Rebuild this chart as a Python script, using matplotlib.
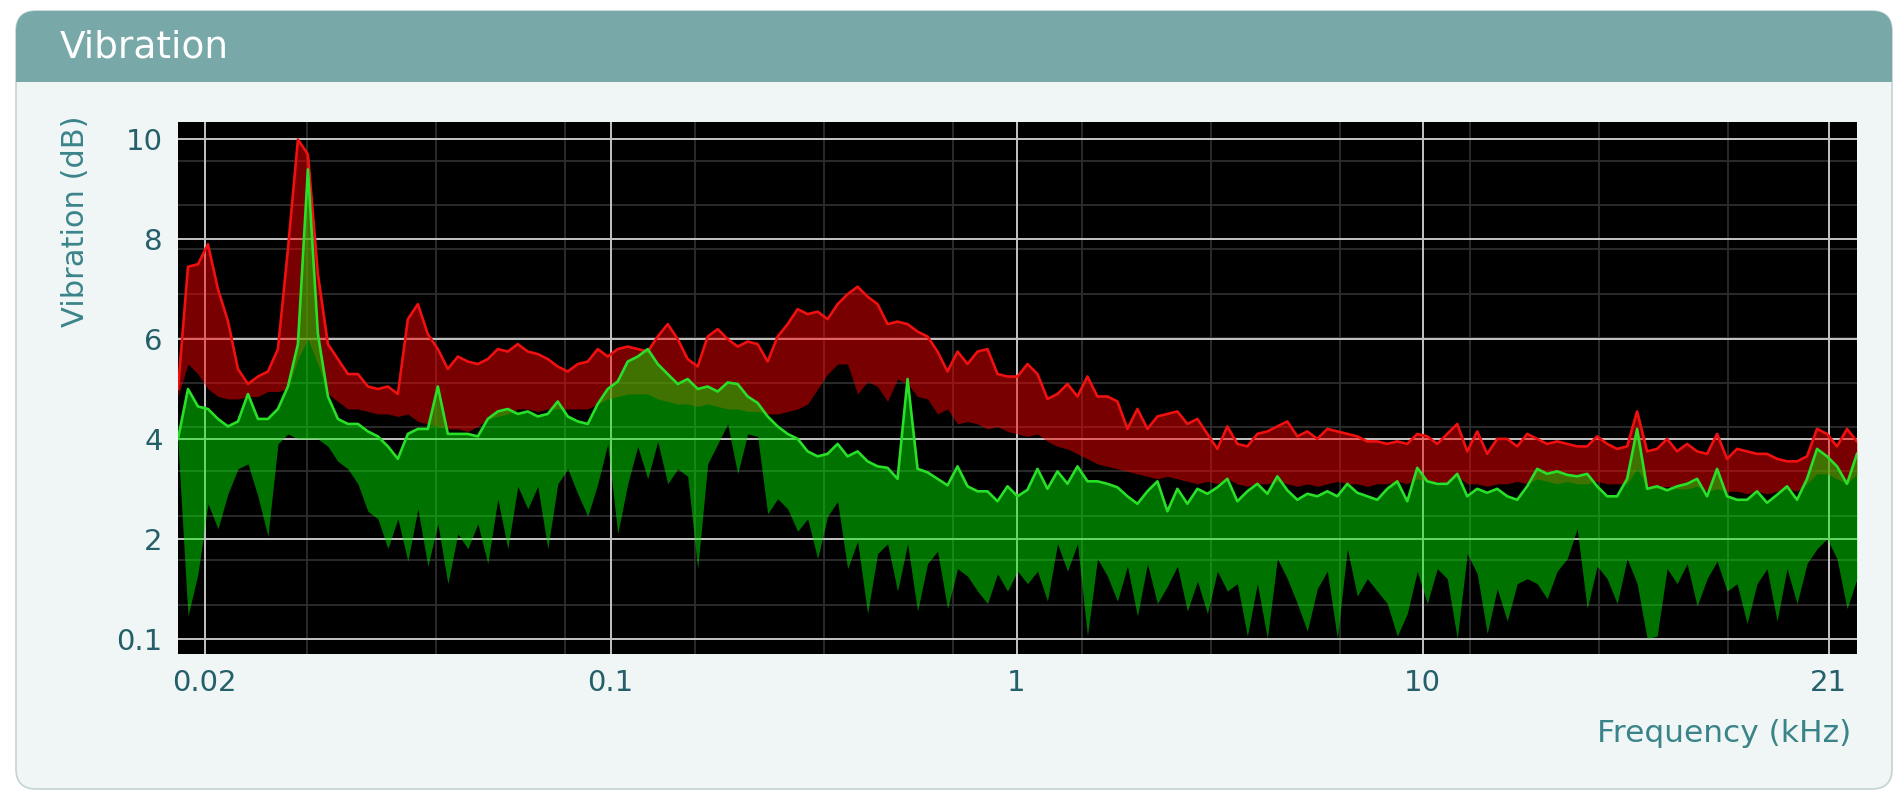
import numpy as np
import matplotlib
matplotlib.use("Agg")
import matplotlib.pyplot as plt
from matplotlib.patches import FancyBboxPatch, Rectangle

# ---------------------------------------------------------------- data
# spectrum bins, evenly spaced along the logarithmic frequency axis
freq = np.geomspace(0.0086, 117.5, 169)

# upper envelope of the reference band (red)
red_max = [
    5.0, 7.45, 7.5, 7.9, 7.0, 6.36, 5.4, 5.1, 5.25, 5.35,
    5.8, 7.8, 10.0, 9.7, 7.3, 5.9, 5.6, 5.3, 5.3, 5.05,
    5.0, 5.05, 4.9, 6.4, 6.7, 6.1, 5.8, 5.4, 5.65, 5.55,
    5.5, 5.6, 5.8, 5.75, 5.9, 5.75, 5.7, 5.6, 5.45, 5.35,
    5.5, 5.55, 5.8, 5.65, 5.8, 5.85, 5.8, 5.75, 6.05, 6.3,
    6.0, 5.6, 5.45, 6.05, 6.2, 6.0, 5.85, 5.95, 5.9, 5.55,
    6.05, 6.3, 6.6, 6.5, 6.55, 6.4, 6.7, 6.9, 7.05, 6.85,
    6.7, 6.3, 6.35, 6.3, 6.15, 6.05, 5.75, 5.35, 5.75, 5.5,
    5.75, 5.8, 5.3, 5.25, 5.25, 5.5, 5.3, 4.8, 4.9, 5.1,
    4.85, 5.25, 4.85, 4.85, 4.75, 4.2, 4.6, 4.2, 4.45, 4.5,
    4.55, 4.3, 4.4, 4.1, 3.8, 4.25, 3.9, 3.85, 4.1, 4.15,
    4.25, 4.35, 4.05, 4.15, 4.0, 4.2, 4.15, 4.1, 4.05, 3.95,
    3.95, 3.9, 3.95, 3.9, 4.1, 4.05, 3.9, 4.1, 4.3, 3.75,
    4.15, 3.7, 4.0, 4.0, 3.85, 4.1, 4.0, 3.9, 3.95, 3.9,
    3.85, 3.85, 4.05, 3.9, 3.8, 3.85, 4.55, 3.75, 3.8, 4.0,
    3.75, 3.9, 3.75, 3.7, 4.1, 3.6, 3.8, 3.75, 3.7, 3.7,
    3.6, 3.55, 3.55, 3.65, 4.2, 4.1, 3.85, 4.2, 3.95,
]

# lower envelope of the reference band (red)
red_min = [
    4.85, 5.5, 5.3, 5.0, 4.85, 4.8, 4.8, 4.85, 4.85, 4.95,
    4.95, 5.0, 5.6, 6.0, 5.5, 4.9, 4.75, 4.6, 4.6, 4.55,
    4.5, 4.5, 4.45, 4.5, 4.35, 4.3, 4.25, 4.2, 4.2, 4.15,
    4.25, 4.4, 4.45, 4.5, 4.6, 4.6, 4.55, 4.6, 4.6, 4.6,
    4.6, 4.6, 4.7, 4.8, 4.85, 4.9, 4.9, 4.9, 4.8, 4.75,
    4.7, 4.7, 4.65, 4.7, 4.65, 4.6, 4.6, 4.55, 4.55, 4.5,
    4.5, 4.55, 4.6, 4.7, 5.0, 5.3, 5.5, 5.5, 4.9, 5.15,
    5.05, 4.75, 5.2, 5.1, 4.85, 4.8, 4.5, 4.6, 4.3, 4.35,
    4.3, 4.2, 4.25, 4.15, 4.1, 4.05, 4.1, 3.95, 3.85, 3.8,
    3.7, 3.6, 3.5, 3.45, 3.4, 3.35, 3.3, 3.25, 3.2, 3.25,
    3.2, 3.15, 3.1, 3.15, 3.1, 3.2, 3.1, 3.05, 3.1, 3.1,
    3.15, 3.1, 3.05, 3.1, 3.05, 3.1, 3.15, 3.1, 3.1, 3.05,
    3.1, 3.1, 3.15, 3.1, 3.2, 3.15, 3.15, 3.1, 3.25, 3.1,
    3.1, 3.05, 3.1, 3.1, 3.15, 3.1, 3.2, 3.15, 3.1, 3.15,
    3.1, 3.1, 3.15, 3.1, 3.1, 3.1, 3.4, 3.05, 3.0, 3.05,
    3.0, 3.0, 3.05, 2.95, 3.0, 2.95, 2.95, 2.9, 2.95, 2.9,
    2.95, 3.0, 2.95, 3.1, 3.3, 3.3, 3.2, 3.1, 3.3,
]

# upper envelope of the measured band (green)
green_max = [
    4.0, 5.0, 4.65, 4.6, 4.4, 4.25, 4.35, 4.9, 4.4, 4.4,
    4.6, 5.05, 5.9, 9.4, 6.1, 4.85, 4.4, 4.3, 4.3, 4.15,
    4.05, 3.85, 3.6, 4.1, 4.2, 4.2, 5.05, 4.1, 4.1, 4.1,
    4.05, 4.4, 4.55, 4.6, 4.5, 4.55, 4.45, 4.5, 4.75, 4.45,
    4.35, 4.3, 4.7, 5.0, 5.15, 5.55, 5.65, 5.8, 5.5, 5.3,
    5.1, 5.2, 5.0, 5.05, 4.95, 5.13, 5.1, 4.85, 4.72, 4.45,
    4.25, 4.1, 4.0, 3.75, 3.65, 3.7, 3.9, 3.65, 3.75, 3.55,
    3.45, 3.42, 3.2, 5.2, 3.4, 3.33, 3.2, 3.07, 3.45, 3.05,
    2.95, 2.95, 2.75, 3.05, 2.85, 2.98, 3.4, 3.0, 3.35, 3.1,
    3.45, 3.15, 3.15, 3.1, 3.03, 2.85, 2.7, 2.95, 3.15, 2.55,
    3.0, 2.7, 3.0, 2.9, 3.03, 3.2, 2.75, 2.95, 3.1, 2.9,
    3.25, 2.97, 2.78, 2.9, 2.85, 2.95, 2.85, 3.1, 2.92, 2.85,
    2.78, 3.0, 3.15, 2.75, 3.42, 3.15, 3.1, 3.1, 3.3, 2.85,
    3.0, 2.92, 3.0, 2.85, 2.78, 3.05, 3.4, 3.3, 3.35, 3.28,
    3.25, 3.3, 3.05, 2.85, 2.85, 3.2, 4.2, 3.0, 3.05, 2.97,
    3.05, 3.1, 3.2, 2.85, 3.4, 2.85, 2.78, 2.78, 2.95, 2.72,
    2.88, 3.05, 2.78, 3.2, 3.8, 3.65, 3.45, 3.1, 3.7,
]

# lower envelope of the measured band (green)
green_min = [
    3.9, 0.45, 1.3, 2.7, 2.2, 2.9, 3.4, 3.5, 2.85, 2.05,
    3.9, 4.1, 4.0, 4.0, 4.0, 3.85, 3.55, 3.4, 3.1, 2.55,
    2.4, 1.8, 2.4, 1.55, 2.6, 1.45, 2.3, 1.1, 2.1, 1.8,
    2.3, 1.5, 2.8, 1.8, 3.05, 2.6, 3.05, 1.8, 3.1, 3.4,
    2.9, 2.45, 3.1, 3.9, 2.1, 3.1, 3.85, 3.2, 3.95, 3.1,
    3.4, 3.25, 1.4, 3.5, 3.9, 4.3, 3.3, 4.1, 4.05, 2.5,
    2.8, 2.6, 2.15, 2.4, 1.6, 2.45, 2.75, 1.4, 1.95, 0.5,
    1.7, 1.9, 0.95, 1.9, 0.55, 1.5, 1.75, 0.6, 1.4, 1.25,
    0.95, 0.7, 1.3, 0.95, 1.35, 1.1, 1.35, 0.75, 1.9, 1.35,
    1.9, 0.05, 1.6, 1.25, 0.75, 1.45, 0.45, 1.5, 0.7, 1.05,
    1.45, 0.55, 1.15, 0.5, 1.35, 0.95, 1.1, 0.05, 1.1, 0.0,
    1.6, 1.2, 0.7, 0.15, 1.0, 1.35, 0.0, 1.8, 0.85, 1.2,
    0.95, 0.7, 0.05, 0.5, 1.35, 0.7, 1.4, 1.2, 0.0, 1.7,
    1.3, 0.1, 1.0, 0.35, 1.1, 1.2, 1.1, 0.8, 1.35, 1.6,
    2.2, 0.6, 1.45, 1.2, 0.7, 1.6, 1.1, 0.0, 0.05, 1.4,
    1.1, 1.5, 0.65, 1.2, 1.55, 0.95, 1.1, 0.3, 1.1, 1.4,
    0.35, 1.4, 0.7, 1.5, 1.8, 2.0, 1.6, 0.6, 1.2,
]

x_ticks = [0.01, 0.1, 1, 10, 100]
x_tick_labels = ["0.02", "0.1", "1", "10", "21"]
y_ticks = [0, 2, 4, 6, 8, 10]
y_tick_labels = ["0.1", "2", "4", "6", "8", "10"]

# ---------------------------------------------------------------- style
W, H = 1896, 793
plt.rcParams["font.family"] = ["DejaVu Sans"]

HEADER = "#78a8a8"
PANEL = "#f0f6f6"
PANEL_EDGE = "#c3d3d3"
TICK_COLOR = "#25606a"
LABEL_COLOR = "#3a8489"

fig = plt.figure(figsize=(W / 100, H / 100), dpi=100)
fig.patch.set_facecolor("white")

# card background drawn in pixel units
bg = fig.add_axes([0, 0, 1, 1], zorder=0)
bg.set_xlim(0, W)
bg.set_ylim(H, 0)
bg.axis("off")
card = FancyBboxPatch((16, 11), 1876, 778,
                      boxstyle="round,pad=0,rounding_size=20",
                      facecolor=PANEL, edgecolor=PANEL_EDGE, linewidth=1.2)
bg.add_patch(card)
header = Rectangle((16, 11), 1876, 71, facecolor=HEADER, edgecolor="none")
bg.add_patch(header)
header.set_clip_path(card)
bg.text(60, 47, "Vibration", color="white", fontsize=27,
        ha="left", va="center")

# plotting area
left, right, top, bottom = 178, 1857, 122, 654
ax = fig.add_axes([left / W, 1 - bottom / H, (right - left) / W, (bottom - top) / H],
                  zorder=1)
ax.set_facecolor("black")
ax.set_xscale("log")
ax.set_xlim(freq[0], freq[-1])
ax.set_ylim(-0.31, 10.35)

# faint background graticule
for i in range(1, 13):
    ax.plot([i / 13, i / 13], [0, 1], transform=ax.transAxes,
            color="#2e2e2e", lw=1.3, zorder=0.5)
for j in range(11):
    yf = 0.9276 - j * 0.08346
    ax.plot([0, 1], [yf, yf], transform=ax.transAxes,
            color="#2e2e2e", lw=1.3, zorder=0.5)

ax.set_xticks(x_ticks)
ax.set_xticklabels(x_tick_labels)
ax.xaxis.set_minor_locator(matplotlib.ticker.NullLocator())
ax.set_yticks(y_ticks)
ax.set_yticklabels(y_tick_labels)
ax.grid(True, which="major", color="#c4c4c4", lw=1.4, zorder=0.6)
ax.set_axisbelow(True)
ax.tick_params(length=0, labelsize=21, labelcolor=TICK_COLOR)
ax.tick_params(axis="y", pad=11)
ax.tick_params(axis="x", pad=11)
for s in ax.spines.values():
    s.set_visible(False)

# bands
ax.fill_between(freq, red_min, red_max, color="#ff0000", alpha=0.48,
                linewidth=0, zorder=2)
ax.plot(freq, red_max, color="#f01010", lw=1.9, zorder=3)
ax.fill_between(freq, green_min, green_max, color="#00f000", alpha=0.48,
                linewidth=0, zorder=4)
ax.plot(freq, green_max, color="#28e028", lw=1.9, zorder=5)

# axis titles
fig.text(75 / W, 1 - 221 / H, "Vibration (dB)", rotation=90, color=LABEL_COLOR,
         fontsize=22, ha="center", va="center")
fig.text(1851 / W, 1 - 733 / H, "Frequency (kHz)", color=LABEL_COLOR,
         fontsize=22.5, ha="right", va="center")

fig.savefig("out.png", dpi=100)
